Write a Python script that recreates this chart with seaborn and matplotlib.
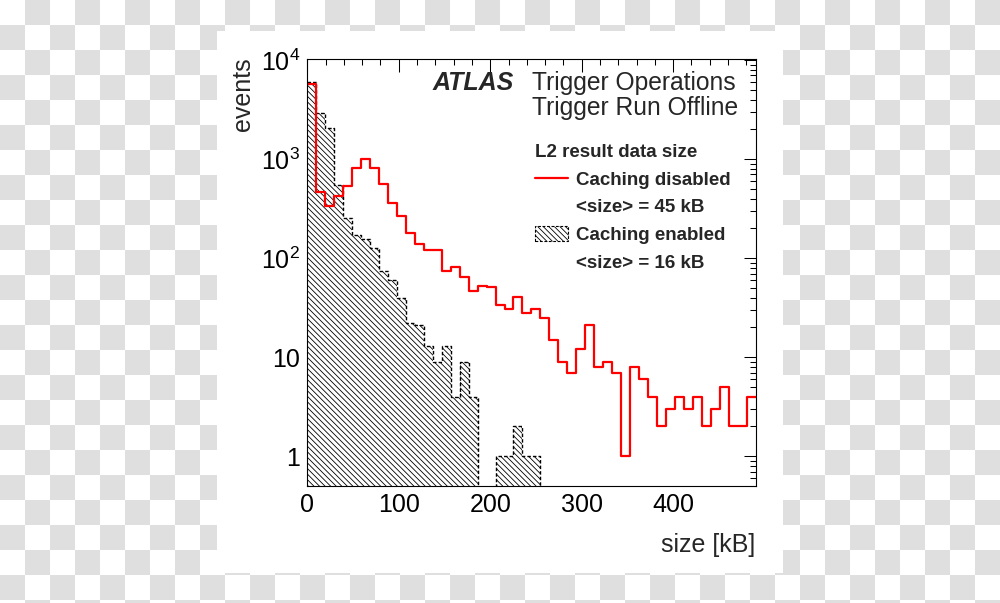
import numpy as np
import matplotlib
matplotlib.use("Agg")
import matplotlib.pyplot as plt
import matplotlib.ticker as mticker
from matplotlib.lines import Line2D
from matplotlib.patches import Patch
import seaborn as sns

# ---------------- data ----------------
bin_low, bin_high, n_bins = 0.0, 490.0, 50
caching_disabled = [5800, 468, 337, 426, 537, 816, 1007, 816, 562, 362,
                    267, 180, 139, 121, 121, 74, 82, 65, 47, 52,
                    51, 34, 31, 41, 28, 31, 25, 15, 9, 7,
                    12, 21, 8, 9, 7, 1, 8, 6, 4, 2,
                    3, 4, 3, 4, 2, 3, 5, 2, 2, 4]
caching_enabled = [6000, 2900, 2070, 550, 255, 172, 157, 127, 74, 60,
                   40, 22, 21, 13, 9, 13, 4, 9, 4, 0,
                   0, 1, 1, 2, 1, 1, 0, 0, 0, 0,
                   0, 0, 0, 0, 0, 0, 0, 0, 0, 0,
                   0, 0, 0, 0, 0, 0, 0, 0, 0, 0]
x_ticks = [0, 100, 200, 300, 400]
y_ticks = [1, 10, 100, 1000, 10000]
legend_title = "L2 result data size"
legend_labels = ["Caching disabled", "<size> = 45 kB", "Caching enabled", "<size> = 16 kB"]

edges = list(np.linspace(bin_low, bin_high, n_bins + 1))
centers = [0.5 * (a + b) for a, b in zip(edges[:-1], edges[1:])]

# ---------------- style ----------------
sns.set_style("white")
plt.rcParams["font.family"] = ["Liberation Sans", "DejaVu Sans"]
plt.rcParams["mathtext.fontset"] = "custom"
plt.rcParams["mathtext.rm"] = "Liberation Sans"
plt.rcParams["mathtext.it"] = "Liberation Sans:italic"
plt.rcParams["mathtext.bf"] = "Liberation Sans:bold"
plt.rcParams["hatch.linewidth"] = 0.6
plt.rcParams["hatch.color"] = "black"

W, H = 1000, 603
fig = plt.figure(figsize=(W / 100, H / 100), dpi=100)

# transparent-look checkerboard background with white panel
yy, xx = np.mgrid[0:H, 0:W]
bg = np.where(((xx // 25) + (yy // 25)) % 2 == 1, 0.878, 1.0)
bg[31:573, 217:783] = 1.0
fig.figimage(np.dstack([bg, bg, bg]), xo=0, yo=0, origin="upper", zorder=-5)

ax = fig.add_axes([307.3 / W, (H - 486) / H, (755.5 - 307.3) / W, (486 - 59.3) / H])
ax.set_facecolor("white")
ax.set_yscale("log")

HATCH = "\\" * 6
DASH = (0, (2.5, 1.5))

sns.histplot(x=centers, weights=caching_enabled, bins=edges, element="step",
             fill=True, color="black", facecolor="none", edgecolor="black",
             linewidth=0, hatch=HATCH, ax=ax)
sns.histplot(x=centers, weights=caching_enabled, bins=edges, element="step",
             fill=False, color="black", linewidth=1.0, linestyle=DASH, ax=ax)
sns.histplot(x=centers, weights=caching_disabled, bins=edges, element="step",
             fill=False, color="red", linewidth=1.6, ax=ax)

ax.set_xlim(bin_low, bin_high)
ax.set_ylim(0.5, 1.02e4)
ax.set_xlabel("")
ax.set_ylabel("")

for s in ax.spines.values():
    s.set_color("black")
    s.set_linewidth(0.8)
    s.set_visible(True)

ax.xaxis.set_major_locator(mticker.FixedLocator(x_ticks))
ax.xaxis.set_minor_locator(mticker.MultipleLocator(20))
ax.yaxis.set_major_locator(mticker.FixedLocator(y_ticks))
ax.yaxis.set_minor_locator(mticker.LogLocator(base=10, subs=np.arange(2, 10), numticks=20))
ax.yaxis.set_minor_formatter(mticker.NullFormatter())


def ylab(v, pos):
    e = int(round(np.log10(v)))
    if e == 0:
        return "1"
    if e == 1:
        return "10"
    return r"$10^{%d}$" % e


ax.yaxis.set_major_formatter(mticker.FuncFormatter(ylab))
ax.tick_params(axis="both", which="both", direction="in", top=True, right=True,
               width=0.75, colors="black")
ax.tick_params(which="major", length=9, pad=5, labelsize=18)
ax.tick_params(which="minor", length=4.5)

# header texts
fig.text(433 / W, 1 - 90 / H, "ATLAS", fontsize=18, fontweight="bold",
         fontstyle="italic", ha="left", va="baseline")
fig.text(532 / W, 1 - 90 / H, "Trigger Operations", fontsize=17.7, ha="left", va="baseline")
fig.text(532 / W, 1 - 115 / H, "Trigger Run Offline", fontsize=17.7, ha="left", va="baseline")

# axis titles
fig.text(755.5 / W, 1 - 552 / H, "size [kB]", fontsize=18, ha="right", va="baseline")
fig.text(243 / W, 1 - 57 / H, "events", fontsize=18, rotation=90, ha="center", va="top")

# legend
prop = {"family": "Liberation Sans", "weight": "bold", "size": 13.5}
handles = [Line2D([], [], color="red", lw=1.6),
           Line2D([], [], color="none"),
           Patch(facecolor="none", edgecolor="black", hatch=HATCH, linestyle=DASH, lw=0.8),
           Line2D([], [], color="none")]
ax.legend(handles, legend_labels, title=legend_title, loc="upper left",
          bbox_to_anchor=(535 / W, 1 - 144 / H), bbox_transform=fig.transFigure,
          frameon=False, borderpad=0, borderaxespad=0, handlelength=1.76,
          handleheight=0.9, handletextpad=0.4, labelspacing=0.5,
          alignment="left", prop=prop, title_fontproperties=prop)

fig.savefig("out.png", dpi=100)
